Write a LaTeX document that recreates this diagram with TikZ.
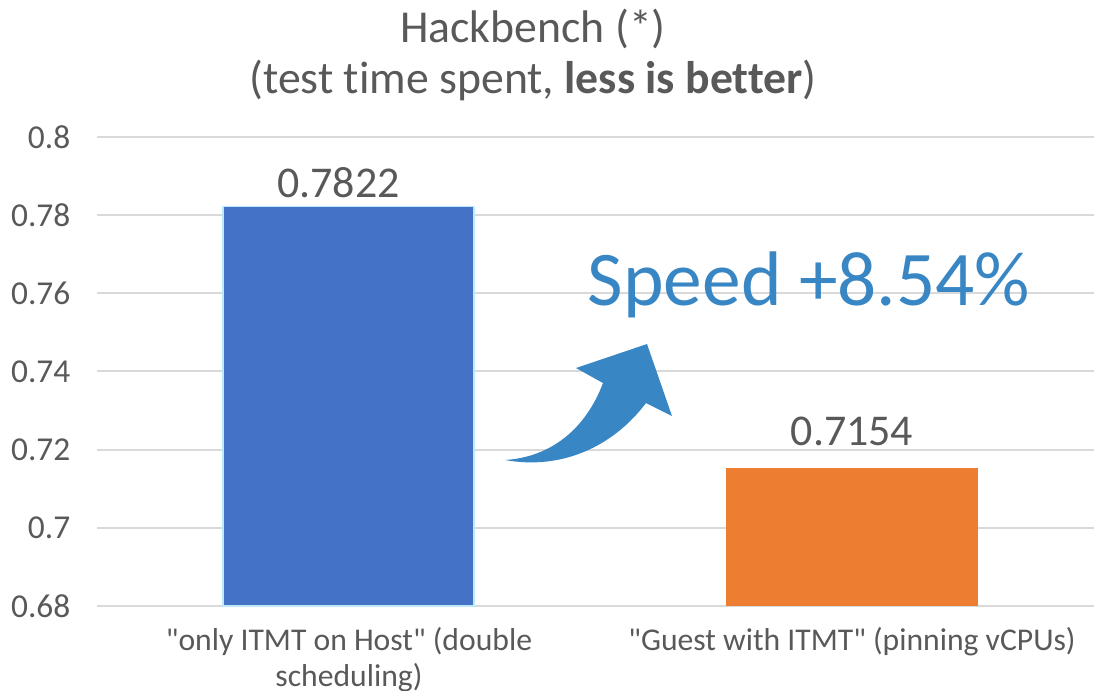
\documentclass[tikz,border=0pt]{standalone}
\usepackage{fontspec}
\setmainfont{Carlito}[Ligatures={NoCommon}]
\definecolor{txtgray}{HTML}{595959}
\definecolor{gridgray}{HTML}{D9D9D9}
\definecolor{hostblue}{HTML}{4472C4}
\definecolor{guestorange}{HTML}{ED7D31}
\definecolor{speedblue}{HTML}{3886C4}
\tikzset{
  ticklabel/.style={anchor=east, text=txtgray, font=\fontsize{9.5}{11}\selectfont, inner sep=0pt},
  barlabel/.style={anchor=base, text=txtgray, font=\fontsize{12.5}{14}\selectfont, inner sep=0pt},
  catlabel/.style={text=txtgray, font=\fontsize{9}{10.2}\selectfont, align=center, inner sep=0pt},
}
\begin{document}
\begin{tikzpicture}[x=0.01cm, y=-0.01cm]
    \useasboundingbox (0,0) rectangle (1094,690);

    % grid and y axis
    \foreach \v/\lab [count=\i from 0] in {0.68/0.68, 0.70/0.7, 0.72/0.72, 0.74/0.74, 0.76/0.76, 0.78/0.78, 0.80/0.8}{
      \draw[gridgray, line width=0.6pt] (97,606-78.2*\i) -- (1094,606-78.2*\i);
      \node[ticklabel] (tick\i) at (71,606-78.2*\i) {\lab};
    }

    % bars
    \fill[hostblue] (223,606) rectangle (474,206.4);
    \draw[cyan!25, line width=0.5pt] (223,606) rectangle (474,206.4);
    \fill[guestorange] (726,606) rectangle (978,467.6);

    \node[barlabel] (hostval) at (338.5,197) {0.7822};
    \node[barlabel] (guestval) at (852,445) {0.7154};

    % arrow
    \fill[speedblue] (505,460) .. controls (552,457) and (586,428) .. (603,383)
      -- (576,368) -- (647,344) -- (672,416) -- (646,403)
      .. controls (612,448) and (560,470) .. (505,460) -- cycle;
    \node[anchor=base, text=speedblue, font=\fontsize{22}{26}\selectfont, inner sep=0pt] (speed) at (809,305) {Speed +8.54\%};

    % title
    \node[text=txtgray, font=\fontsize{13}{15}\selectfont, anchor=base, inner sep=0pt] (title) at (533,42) {Hackbench (*)};
    \node[text=txtgray, font=\fontsize{13}{15}\selectfont, anchor=base, inner sep=0pt] (subtitle) at (533,93) {(test time spent, \textbf{less is better})};

    % categories
    \node[catlabel, anchor=north] (hostcat) at (349,627) {\textquotedbl only ITMT on Host\textquotedbl\ (double\\scheduling)};
    \node[catlabel, anchor=north] (guestcat) at (852,627) {\textquotedbl Guest with ITMT\textquotedbl\ (pinning vCPUs)};
\end{tikzpicture}
\end{document}
